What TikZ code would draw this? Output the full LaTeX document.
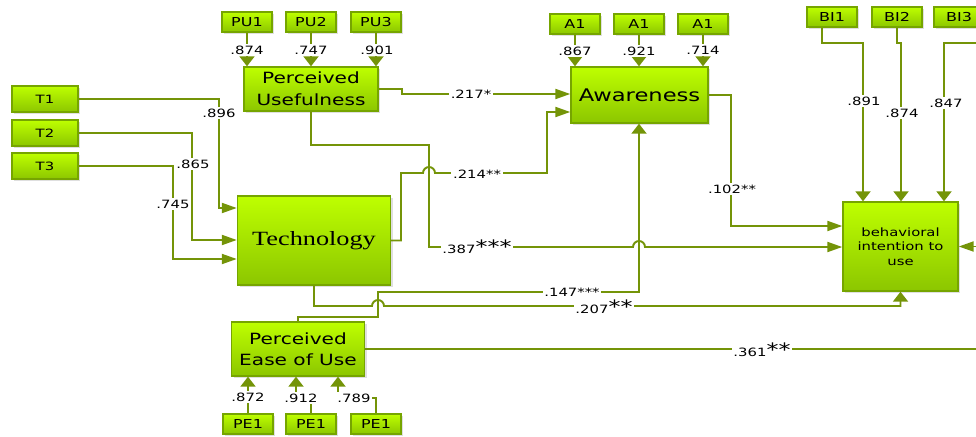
\documentclass[tikz,border=0pt]{standalone}
\usepackage{fontspec}
\setmainfont[FakeStretch=1.3]{DejaVu Sans}
\newfontfamily\techfont[FakeStretch=1.3]{Liberation Serif}
\usetikzlibrary{arrows.meta, shadows}
\definecolor{pathgreen}{RGB}{116,148,8}
\definecolor{boxtop}{RGB}{190,255,0}
\definecolor{boxbottom}{RGB}{140,198,0}
\definecolor{boxline}{RGB}{118,165,0}

\begin{document}
\begin{tikzpicture} % one unit is one pixel of the model picture, y runs down
    [x=0.02cm, y=-0.02cm,
      box/.style={draw=boxline, line width=0.8pt, top color=boxtop, bottom color=boxbottom,
        drop shadow={shadow xshift=1.2pt, shadow yshift=-1.2pt, opacity=0.25},
        inner sep=0pt, align=center, font=\fontsize{7}{8}\selectfont},
      ind/.style={box, minimum width=1cm, minimum height=0.4cm},
      tind/.style={box, minimum width=1.32cm, minimum height=0.52cm, font=\fontsize{6.5}{7}\selectfont},
      % the picture is stretched sideways, so the tips are too
      link/.style={draw=pathgreen, line width=1.1pt, -{Triangle[width=0.2cm, length=0.3cm]}},
      vlink/.style={draw=pathgreen, line width=1.1pt, -{Triangle[width=0.3cm, length=0.2cm]}},
      coef/.style={fill=white, inner sep=1pt, font=\fontsize{6.5}{7}\selectfont}]
    \useasboundingbox (0,0) rectangle (976,436);
    \clip (0,0) rectangle (976,436);

    % the constructs
    \node[box, minimum width=2.68cm, minimum height=0.88cm, font=\fontsize{8.8}{12.5}\selectfont]
      (PU) at (311,89) {Perceived\\Usefulness};
    \node[box, minimum width=2.74cm, minimum height=1.12cm, font=\fontsize{9.9}{11}\selectfont]
      (Aw) at (639.5,95) {Awareness};
    \node[box, minimum width=3.06cm, minimum height=1.78cm, font=\techfont\fontsize{11.5}{12}\selectfont]
      (Tech) at (314,240.5) {Technology};
    \node[box, minimum width=2.3cm, minimum height=1.78cm, font=\fontsize{6.5}{8.4}\selectfont]
      (BI) at (900.5,246.5) {behavioral\\intention to\\use};
    \node[box, minimum width=2.66cm, minimum height=1.08cm, font=\fontsize{8.8}{12}\selectfont]
      (PEOU) at (298,349) {Perceived\\Ease of Use};

    % the indicators
    \node[ind] (PU1) at (247,22) {PU1};
    \node[ind] (PU2) at (311,22) {PU2};
    \node[ind] (PU3) at (376,22) {PU3};
    \node[ind] (A1a) at (575,24) {A1};
    \node[ind] (A1b) at (639,24) {A1};
    \node[ind] (A1c) at (703,24) {A1};
    \node[ind] (BI1) at (832,17) {BI1};
    \node[ind] (BI2) at (897,17) {BI2};
    \node[ind] (BI3) at (959,17) {BI3};
    \node[tind] (T1) at (45,99) {T1};
    \node[tind] (T2) at (45,133) {T2};
    \node[tind] (T3) at (45,166) {T3};
    \node[ind] (PE1a) at (248,424) {PE1};
    \node[ind] (PE1b) at (311,424) {PE1};
    \node[ind] (PE1c) at (376,424) {PE1};

    % loadings
    \draw[vlink] (PU1.south) -- (PU1.south |- PU.north);
    \draw[vlink] (PU2.south) -- (PU2.south |- PU.north);
    \draw[vlink] (PU3.south) -- (PU3.south |- PU.north);
    \draw[vlink] (A1a.south) -- (A1a.south |- Aw.north);
    \draw[vlink] (A1b.south) -- (A1b.south |- Aw.north);
    \draw[vlink] (A1c.south) -- (A1c.south |- Aw.north);
    \draw[link] (T1.east) -| (219,208) -- (Tech.west |- 219,208);
    \draw[link] (T2.east) -| (192,240) -- (Tech.west |- 192,240);
    \draw[link] (T3.east) -| (173,259) -- (Tech.west |- 173,259);
    \draw[vlink] ([xshift=-0.2cm]BI1.south) |- (863,43) -- (BI.north -| 863,0);
    \draw[vlink] (BI2.south) |- (901,43) -- (BI.north -| 901,0);
    \draw[vlink] (BI3.south east) |- (944,43) -- (BI.north -| 944,0);
    \draw[vlink] (PE1a.north) -- (PE1a.north |- PEOU.south);
    \draw[vlink] (PE1b.north) |- (296,398) -- (PEOU.south -| 296,0);
    \draw[vlink] (PE1c.north) |- (338,398) -- (PEOU.south -| 338,0);

    % paths between constructs (little hops where two lines cross)
    \draw[link] (PU.east) -| (402,94) -- (Aw.west |- 0,94);
    \draw[link] (Tech.east) -| (401,173) -- (423,173) arc (180:360:6) -- (547,173) |- (Aw.west |- 0,112);
    \draw[link] (PU.south) |- (429,145) -- (429,247) -- (633,247) arc (180:360:6) -- (BI.west |- 0,247);
    \draw[link] (Aw.east) -| (731,226) -- (BI.west |- 0,226);
    \draw[vlink] (PEOU.north) |- (378,317) -- (378,292) -- (639,292) -- (Aw.south -| 639,0);
    \draw[vlink] (Tech.south) |- (372,306) arc (180:360:6) -| (BI.south);
    \draw[link] (PEOU.east) -- (995,349) |- (BI.east);

    % the numbers
    \node[coef] (cPU1) at (247,50) {.874};
    \node[coef] (cPU2) at (311,50) {.747};
    \node[coef] (cPU3) at (377,50) {.901};
    \node[coef] (cA1a) at (575,51) {.867};
    \node[coef] (cA1b) at (639,51) {.921};
    \node[coef] (cA1c) at (703,50) {.714};
    \node[coef] (cT1) at (219,113) {.896};
    \node[coef] (cT2) at (193,164) {.865};
    \node[coef] (cT3) at (173,204) {.745};
    \node[coef] (cBI1) at (864,101) {.891};
    \node[coef] (cBI2) at (902,113) {.874};
    \node[coef] (cBI3) at (946,103) {.847};
    \node[coef] (cPE1a) at (248,397) {.872};
    \node[coef] (cPE1b) at (301,398) {.912};
    \node[coef] (cPE1c) at (354,398) {.789};
    \node[coef] (cPUAw) at (471,94) {.217*};
    \node[coef] (cTechAw) at (477,174) {.214**};
    \node[coef] (cPUBI) at (477,247) {.387{\fontsize{10.5}{9}\selectfont***}};
    \node[coef] (cAwBI) at (732,189) {.102**};
    \node[coef] (cPEOUAw) at (572,292) {.147***};
    \node[coef] (cTechBI) at (604,307) {.207{\fontsize{10.5}{9}\selectfont**}};
    \node[coef] (cPEOUBI) at (762,350) {.361{\fontsize{10.5}{9}\selectfont**}};
\end{tikzpicture}
\end{document}
